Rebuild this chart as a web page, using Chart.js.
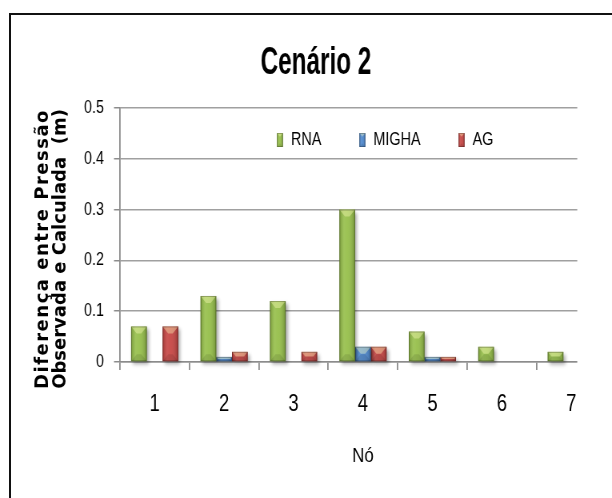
<!DOCTYPE html>
<html>
<head>
<meta charset="utf-8">
<script src="https://cdn.jsdelivr.net/npm/chart.js@4/dist/chart.umd.min.js"></script>
<style>
  html, body { margin: 0; padding: 0; background: #fff; overflow: hidden; }
  #wrap { position: relative; width: 612px; height: 498px; }
  #frame { position: absolute; left: 9px; top: 13px; width: 700px; height: 600px;
           border-left: 2px solid #111; border-top: 2px solid #111; }
  canvas { position: absolute; left: 0; top: 0; }
</style>
</head>
<body>
<div id="wrap">
  <div id="frame"></div>
  <!-- drawn wider than shown, so every glyph comes out condensed -->
  <canvas id="c" width="765" height="498" style="width:612px;height:498px"></canvas>
</div>
<script>
// Pressure difference per node (m)
const nodes = ['1', '2', '3', '4', '5', '6', '7'];
const rna   = [0.07, 0.13, 0.12, 0.30, 0.06, 0.03, 0.02];
const migha = [0.00, 0.01, 0.00, 0.03, 0.01, 0.00, 0.00];
const ag    = [0.07, 0.02, 0.02, 0.03, 0.01, 0.00, 0.00];
const seriesNames = ['RNA', 'MIGHA', 'AG'];
const yTickLabels = ['0', '0.1', '0.2', '0.3', '0.4', '0.5'];
const chartTitle = 'Cenário 2';
const xTitle = 'Nó';
const yTitle = ['Diferença entre Pressão', 'Observada e Calculada  (m)'];

const palette = ['#93bd45', '#4a85cc', '#c4413f'];
const SANS = '"Liberation Sans", Arial, sans-serif';
const SQ = 0.8;              // horizontal squeeze of the displayed canvas
const px = v => v / SQ;      // screen-width pixels -> canvas pixels

function poly(ctx, pts, fill) {
  ctx.beginPath();
  ctx.moveTo(pts[0][0], pts[0][1]);
  for (let i = 1; i < pts.length; i++) ctx.lineTo(pts[i][0], pts[i][1]);
  ctx.closePath();
  ctx.fillStyle = fill;
  ctx.fill();
}

// bevelled look on top of a flat bar
function shadeBar(ctx, x0, y0, w, h) {
  const x1 = x0 + w, y1 = y0 + h;
  const d = Math.min(7, w / 2, h / 2);
  const g = ctx.createLinearGradient(x0, 0, x1, 0);
  g.addColorStop(0, 'rgba(0,0,0,0.20)');
  g.addColorStop(0.3, 'rgba(255,255,255,0.12)');
  g.addColorStop(0.55, 'rgba(255,255,255,0.08)');
  g.addColorStop(1, 'rgba(0,0,0,0.24)');
  ctx.fillStyle = g;
  ctx.fillRect(x0, y0, w, h);
  poly(ctx, [[x0, y0], [x1, y0], [x1 - d, y0 + d], [x0 + d, y0 + d]], 'rgba(255,255,190,0.38)');
  poly(ctx, [[x0, y1], [x1, y1], [x1 - d, y1 - d], [x0 + d, y1 - d]], 'rgba(0,0,0,0.10)');
  ctx.strokeStyle = 'rgba(0,0,0,0.25)';
  ctx.lineWidth = 1;
  ctx.strokeRect(x0 + 0.5, y0 + 0.5, w - 1, h - 1);
}

const barLook = {
  id: 'barLook',
  beforeDatasetsDraw(chart) {
    const ctx = chart.ctx, area = chart.chartArea, xs = chart.scales.x;
    // horizontal rules stop a little past the last node
    const cut = xs.getPixelForValue(nodes.length - 1) + px(6);
    ctx.save();
    ctx.fillStyle = '#fff';
    ctx.fillRect(cut, area.top - 3, chart.width - cut, area.height + 14);
    ctx.restore();
    ctx.save();
    ctx.shadowColor = 'rgba(0,0,0,0.35)';
    ctx.shadowBlur = 4;
    ctx.shadowOffsetX = px(2);
    ctx.shadowOffsetY = 3;
  },
  afterDatasetsDraw(chart) {
    const ctx = chart.ctx;
    ctx.restore();
    ctx.save();
    chart.data.datasets.forEach((ds, i) => {
      chart.getDatasetMeta(i).data.forEach(bar => {
        const p = bar.getProps(['x', 'y', 'base', 'width'], true);
        const h = p.base - p.y;
        if (h <= 0.5) return;
        shadeBar(ctx, p.x - p.width / 2, p.y, p.width, h);
      });
    });
    ctx.restore();
  }
};

// chart title and the two-line vertical axis title
const titles = {
  id: 'titles',
  afterDraw(chart) {
    const ctx = chart.ctx;
    const pad = chart.options.layout.padding;
    const cx = (pad.left + chart.width - pad.right) / 2;
    ctx.save();
    ctx.translate(cx, 64);
    ctx.scale(0.8, 1);
    ctx.font = 'bold 38px ' + SANS;
    ctx.fillStyle = '#000';
    ctx.textAlign = 'center';
    ctx.textBaseline = 'middle';
    ctx.fillText(chartTitle, 0, 0);
    ctx.restore();

    ctx.save();
    ctx.font = 'bold 18px "DejaVu Sans", sans-serif';
    ctx.fillStyle = '#000';
    ctx.textAlign = 'center';
    ctx.textBaseline = 'middle';
    const spacing = ['1.5px', '0px'];
    const lineX = [px(43), px(61)];
    yTitle.forEach((line, i) => {
      ctx.save();
      ctx.letterSpacing = spacing[i];
      ctx.translate(lineX[i], 249);
      ctx.scale(1 / SQ, 1);          // vertical text keeps its full glyph height
      ctx.rotate(-Math.PI / 2);
      ctx.fillText(line, 0, 0);
      ctx.restore();
    });
    ctx.restore();
  }
};

// legend inside the plot, near the top
const innerLegend = {
  id: 'innerLegend',
  afterDraw(chart) {
    const ctx = chart.ctx, area = chart.chartArea;
    let x = area.left + area.width * 0.323;
    const y = area.top + 32;
    ctx.save();
    ctx.font = '18px ' + SANS;
    ctx.textBaseline = 'middle';
    ctx.textAlign = 'left';
    chart.data.datasets.forEach(ds => {
      ctx.fillStyle = ds.backgroundColor;
      ctx.fillRect(x, y - 7, px(6), 14);
      shadeBar(ctx, x, y - 7, px(6), 14);
      ctx.fillStyle = '#000';
      ctx.fillText(ds.label, x + px(14), y);
      x += px(14) + ctx.measureText(ds.label).width + px(38);
    });
    ctx.restore();
  }
};

new Chart(document.getElementById('c'), {
  type: 'bar',
  data: {
    labels: nodes,
    datasets: [
      { label: seriesNames[0], data: rna,   backgroundColor: palette[0] },
      { label: seriesNames[1], data: migha, backgroundColor: palette[1] },
      { label: seriesNames[2], data: ag,    backgroundColor: palette[2] }
    ]
  },
  plugins: [barLook, titles, innerLegend],
  options: {
    responsive: false,
    animation: false,
    devicePixelRatio: 1,
    layout: { padding: { left: px(26), right: px(6), top: 108, bottom: 0 } },
    datasets: { bar: { categoryPercentage: 0.68, barPercentage: 1, borderWidth: 0, clip: false } },
    plugins: {
      legend: { display: false },
      tooltip: { enabled: false },
      title: { display: false }
    },
    scales: {
      x: {
        offset: true,
        grid: { drawOnChartArea: false, drawTicks: true, tickLength: 8, offset: true,
                color: '#8c8c8c', lineWidth: 1.8 },
        border: { color: '#8c8c8c', width: 1.5 },
        ticks: { color: '#000', font: { family: SANS, size: 23 }, padding: 21 },
        title: { display: true, text: xTitle, color: '#000',
                 font: { family: SANS, size: 21 }, padding: { top: 0, bottom: 29 } },
        afterFit(s) { s.height = 136; }
      },
      y: {
        min: 0,
        max: 0.5,
        ticks: { stepSize: 0.1, color: '#000', font: { family: SANS, size: 18 }, padding: px(10),
                 callback: (v, i) => yTickLabels[i] },
        grid: { color: '#a0a0a0', lineWidth: 1.5, tickLength: px(6), tickColor: '#8c8c8c' },
        border: { color: '#8c8c8c', width: 1.8 },
        title: { display: false },
        afterFit(s) { s.width = px(94); }
      }
    }
  }
});
</script>
</body>
</html>
